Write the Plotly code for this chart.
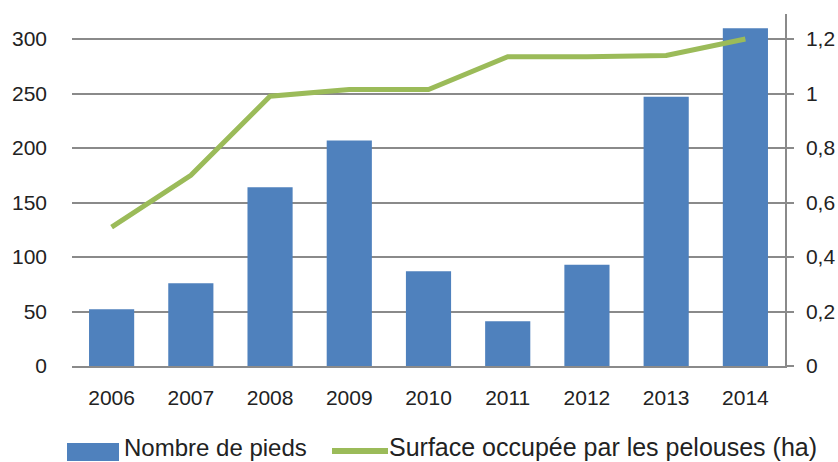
import plotly.graph_objects as go

years = ["2006", "2007", "2008", "2009", "2010", "2011", "2012", "2013", "2014"]
nombre_pieds = [52, 76, 164, 207, 87, 41, 93, 247, 310]
surface_ha = [0.51, 0.70, 0.99, 1.015, 1.015, 1.135, 1.135, 1.14, 1.20]

bar_name = "Nombre de pieds"
line_name = "Surface occupée par les pelouses (ha)"

BLUE = "#4F81BD"
GREEN = "#9BBB59"
FONT = "Liberation Sans, Arial, sans-serif"
GRID = "#8a8a8a"

W, H = 838, 462
ML, MR, MT, MB = 72, 53, 14, 96
PW, PH = W - ML - MR, H - MT - MB


def px_x(x):
    return (x - ML) / PW


def px_y(y):
    return (H - MB - y) / PH


fig = go.Figure()
fig.add_trace(go.Bar(x=years, y=nombre_pieds, name=bar_name,
                     marker=dict(color=BLUE, line=dict(width=0)),
                     yaxis="y", showlegend=False))
fig.add_trace(go.Scatter(x=years, y=surface_ha, name=line_name, mode="lines",
                         line=dict(color=GREEN, width=5),
                         yaxis="y2", showlegend=False))

# legend (drawn like the original: wide swatches)
shapes = [
    dict(type="rect", xref="paper", yref="paper",
         x0=px_x(67), x1=px_x(119), y0=px_y(461), y1=px_y(443),
         fillcolor=BLUE, line=dict(width=0)),
    dict(type="line", xref="paper", yref="paper",
         x0=px_x(332), x1=px_x(388), y0=px_y(451), y1=px_y(451),
         line=dict(color=GREEN, width=6)),
]
annotations = [
    dict(xref="paper", yref="paper", x=px_x(123), y=px_y(462), text=bar_name,
         showarrow=False, xanchor="left", yanchor="bottom", borderpad=0,
         font=dict(size=24, color="#222222", family=FONT)),
    dict(xref="paper", yref="paper", x=px_x(388), y=px_y(462), text=line_name,
         showarrow=False, xanchor="left", yanchor="bottom", borderpad=0,
         font=dict(size=25, color="#222222", family=FONT)),
]

fig.update_layout(
    width=W, height=H,
    margin=dict(l=ML, r=MR, t=MT, b=MB, autoexpand=False),
    paper_bgcolor="white", plot_bgcolor="white",
    separators=", ",
    bargap=0.43,
    font=dict(family=FONT, size=21, color="#222222"),
    showlegend=False,
    shapes=shapes,
    annotations=annotations,
    xaxis=dict(showline=True, linecolor=GRID, linewidth=1.5, ticks="",
               showgrid=False, ticklabelstandoff=12, tickfont=dict(size=21)),
    yaxis=dict(range=[0, 323], dtick=50, tick0=0, showgrid=True, gridcolor=GRID,
               gridwidth=1.5, zeroline=False, showline=False, ticks="",
               ticklabelstandoff=24, tickfont=dict(size=21)),
    yaxis2=dict(range=[0, 1.292], dtick=0.2, tick0=0, overlaying="y", side="right",
                showgrid=False, zeroline=False, showline=True, linecolor=GRID,
                linewidth=1.5, ticks="outside", ticklen=7, tickcolor=GRID,
                tickwidth=1.5, ticklabelstandoff=8, tickfont=dict(size=21)),
)

fig.write_html("out.html", config={"displayModeBar": False},
               post_script="document.body.style.margin='0';document.body.style.overflow='hidden';")
